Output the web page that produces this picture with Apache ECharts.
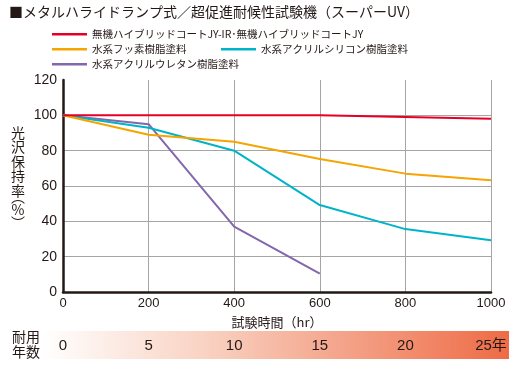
<!DOCTYPE html>
<html><head><meta charset="utf-8">
<script src="https://cdn.jsdelivr.net/npm/echarts@6/dist/echarts.min.js"></script>
<style>html,body{margin:0;padding:0;background:#fff}#c{width:516px;height:368px}</style>
</head><body><div id="c"></div>
<script>
// ---- data ----
const hours = [0, 200, 400, 600, 800, 1000];
const seriesNames = [
  '無機ハイブリッドコートJY-IR･無機ハイブリッドコートJY',
  '水系フッ素樹脂塗料',
  '水系アクリルシリコン樹脂塗料',
  '水系アクリルウレタン樹脂塗料'
];
const hybridJY = [100, 100, 100, 100, 99, 98];
const fluoro = [100, 89, 85, 75.3, 67, 63.2];
const acrylSilicon = [100, 93, 80, 49.2, 35.6, 29.3];
const acrylUrethane = [100, 95, 37, 10.4];
const yearTicks = [0, 5, 10, 15, 20, 25];
const titleText = '■メタルハライドランプ式／超促進耐候性試験機（スーパーUV）';
const yName = '光沢保持率';
const yUnit = ['︵', '%', '︶'];
const xName = '試験時間（hr）';
const bandLabel = '耐用\n年数';

// ---- chart ----
const colors = ['#E60026', '#F5A400', '#00B4C8', '#8466AC'];
const FONT = '"Liberation Sans", "Noto Sans CJK JP", sans-serif';
const JP = '"Noto Sans CJK JP", sans-serif';
const DARK = '#231815';
const pair = arr => arr.map((v, i) => [hours[i], v]);
const allData = [hybridJY, fluoro, acrylSilicon, acrylUrethane];

const chart = echarts.init(document.getElementById('c'), null, {renderer: 'canvas'});
const legendPos = [[47, 24], [47, 39], [216, 39], [47, 54]];
const unitY = [197, 210, 223];
chart.setOption({
  animation: false,
  textStyle: {fontFamily: FONT},
  grid: {left: 63, right: 25, top: 80, bottom: 76},
  legend: seriesNames.map((n, i) => ({
    data: [n], left: legendPos[i][0], top: legendPos[i][1],
    icon: 'rect', itemWidth: 35, itemHeight: 2.5, itemGap: 0,
    textStyle: {fontSize: 10.5, color: DARK, fontFamily: JP},
    selectedMode: false
  })),
  xAxis: [{
    type: 'value', min: 0, max: 1000, interval: 200,
    axisLine: {show: true, onZero: false, lineStyle: {color: DARK, width: 2.5}},
    axisTick: {show: false},
    axisLabel: {fontSize: 13, color: DARK, margin: 5, formatter: v => String(v)},
    splitLine: {show: true, showMinLine: false, lineStyle: {color: '#A5A5A5', width: 1}},
    name: xName, nameLocation: 'middle', nameGap: 24,
    nameTextStyle: {fontSize: 13, color: DARK, fontFamily: JP}
  }, {
    type: 'value', min: 0, max: 25, interval: 5, position: 'bottom', offset: 38,
    axisLine: {show: false}, axisTick: {show: false}, splitLine: {show: false},
    axisLabel: {fontSize: 15, color: DARK, margin: 8,
      formatter: v => v === yearTicks[yearTicks.length - 1] ? v + '年' : String(v)}
  }],
  yAxis: {
    type: 'value', min: 0, max: 120, interval: 20,
    axisLine: {show: true, lineStyle: {color: DARK, width: 2.5}},
    axisTick: {show: false},
    axisLabel: {fontSize: 14, color: DARK, margin: 6},
    splitLine: {show: true, showMinLine: false, showMaxLine: false, lineStyle: {color: '#A5A5A5', width: 1}}
  },
  series: seriesNames.map((n, i) => ({
    name: n, type: 'line', xAxisIndex: 0, data: pair(allData[i]),
    symbol: 'none', lineStyle: {width: 2, color: colors[i]}, itemStyle: {color: colors[i]},
    z: 10 - i
  })).reverse(),
  graphic: [
    {type: 'text', left: 9, top: 5, style: {text: titleText, fontSize: 14, fill: DARK, fontFamily: JP}},
    {type: 'rect', z: -10, shape: {x: 42, y: 331, width: 467, height: 28},
      style: {fill: new echarts.graphic.LinearGradient(0, 0, 1, 0, [
        {offset: 0, color: '#FFFFFF'}, {offset: 0.35, color: '#F9D2C2'}, {offset: 1, color: '#EE6B45'}])}},
    {type: 'text', left: 12, top: 329, style: {text: bandLabel, fontSize: 14, lineHeight: 15, fill: DARK, fontFamily: JP}},
    {type: 'text', x: 18, y: 125, style: {text: yName.split('').join('\n'), fontSize: 14, lineHeight: 14.5, align: 'center', verticalAlign: 'top', fill: DARK, fontFamily: JP}}
  ].concat(yUnit.map((ch, i) => ({
    type: 'text', x: 18, y: unitY[i],
    style: {text: ch, fontSize: 14, align: 'center', verticalAlign: 'middle', fill: DARK, fontFamily: JP}
  })))
});
</script></body></html>
